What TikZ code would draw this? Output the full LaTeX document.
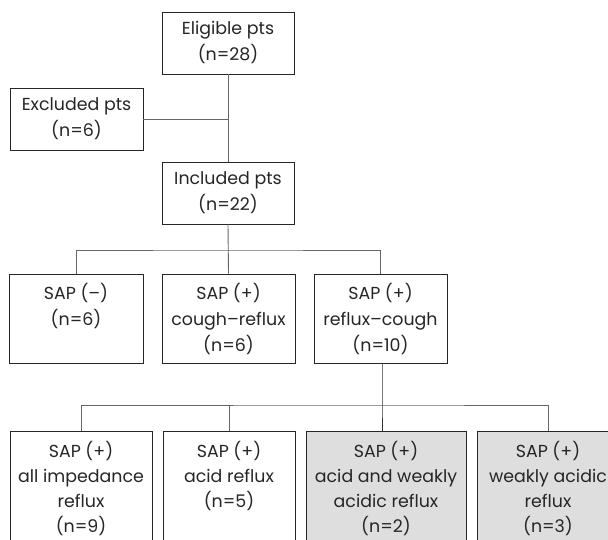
\documentclass[tikz,border=0pt]{standalone}
\usepackage{fontspec}
\setmainfont{Poppins}
\begin{document}
\begin{tikzpicture}[x=1pt,y=-1pt,
  every node/.style={font=\fontsize{17.4}{26}\selectfont, text=black!85},
  box/.style={draw=black!85, line width=0.8pt, rectangle, align=center, inner sep=0pt},
  lowbox/.style={box, font=\fontsize{17.4}{25}\selectfont},
  grbox/.style={lowbox, fill=black!13},
  conn/.style={draw=black!60, line width=0.9pt}]
\useasboundingbox (0,0) rectangle (608,540);
\clip (0,0) rectangle (608,540);
\fill[white] (0,0) rectangle (608,540);
\node[box, minimum width=132pt, minimum height=62pt] (elig) at (228,43) {Eligible pts\\(n=28)};
\node[box, minimum width=133pt, minimum height=62pt] (excl) at (76.5,119) {Excluded pts\\(n=6)};
\node[box, minimum width=132pt, minimum height=62pt] (incl) at (228,193) {Included pts\\(n=22)};
\node[box, minimum width=134pt, minimum height=89pt] (s1) at (76,318.5) {SAP (--)\\(n=6)\\\phantom{(n=6)}};
\node[box, minimum width=133pt, minimum height=89pt] (s2) at (228.5,318.5) {SAP (+)\\cough--reflux\\(n=6)};
\node[box, minimum width=133pt, minimum height=89pt] (s3) at (380.5,318.5) {SAP (+)\\reflux--cough\\(n=10)};
\node[lowbox, minimum width=142pt, minimum height=114pt] (r1) at (81,488.5) {SAP (+)\\all impedance\\reflux\\(n=9)};
\node[lowbox, minimum width=132pt, minimum height=114pt] (r2) at (229,488.5) {SAP (+)\\acid reflux\\(n=5)\\\phantom{(n=5)}};
\node[grbox, minimum width=160pt, minimum height=114pt] (r3) at (386,488.5) {SAP (+)\\acid and weakly\\acidic reflux\\(n=2)};
\node[grbox, minimum width=142pt, minimum height=114pt] (r4) at (548,488.5) {SAP (+)\\weakly acidic\\reflux\\(n=3)};
\coordinate (b1) at (228,250);
\coordinate (b2) at (382,405);
\draw[conn] (elig) -- (incl);
\draw[conn] (excl.east) -- (excl.east -| elig.south);
\draw[conn] (incl.south) -- (s2.north);
\draw[conn] (s1.north) |- (b1) -| (s3.north);
\draw[conn, draw=black!80] (s3.south -| b2) -- (b2) -- (b2 |- r3.north);
\draw[conn] (r1.north) |- (b2) -| (r4.north);
\draw[conn] (r2.north) -- (r2.north |- b2);
\end{tikzpicture}
\end{document}
